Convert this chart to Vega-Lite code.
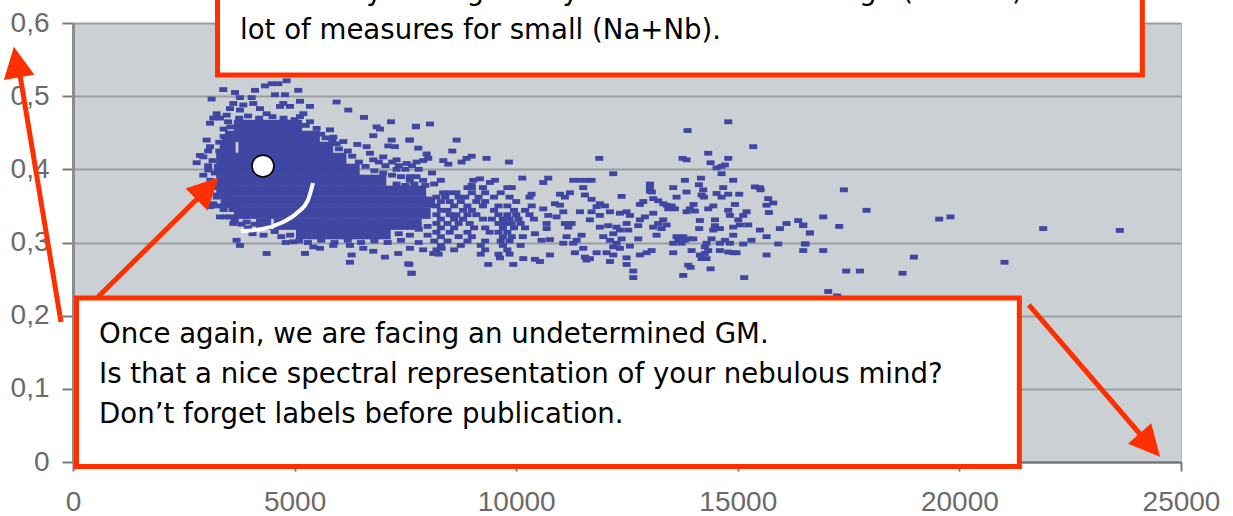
{"$schema":"https://vega.github.io/schema/vega-lite/v6.json","autosize":"none","padding":{"left":73,"top":23,"right":52,"bottom":54},"width":1108,"height":439,"background":"white",
"config":{"view":{"fill":"#cbd0d5","stroke":"#b4b8bc"}},
"datasets":{
"core":[{"x":3800,"y":0.46},{"x":4100,"y":0.46},{"x":4400,"y":0.46},{"x":4700,"y":0.46},{"x":5000,"y":0.46},
{"x":3600,"y":0.445},{"x":3900,"y":0.445},{"x":4200,"y":0.445},{"x":4500,"y":0.445},{"x":4800,"y":0.445},{"x":5100,"y":0.445},{"x":5400,"y":0.445},
{"x":3500,"y":0.43},{"x":3900,"y":0.43},{"x":4200,"y":0.43},{"x":4500,"y":0.43},{"x":4800,"y":0.43},{"x":5100,"y":0.43},{"x":5400,"y":0.43},{"x":5700,"y":0.43},
{"x":3400,"y":0.415},{"x":3600,"y":0.415},{"x":3900,"y":0.415},{"x":4200,"y":0.415},{"x":4500,"y":0.415},{"x":4800,"y":0.415},{"x":5100,"y":0.415},{"x":5400,"y":0.415},{"x":5700,"y":0.415},{"x":6000,"y":0.415},
{"x":3350,"y":0.4},{"x":3600,"y":0.4},{"x":3900,"y":0.4},{"x":4200,"y":0.4},{"x":4500,"y":0.4},{"x":4800,"y":0.4},{"x":5100,"y":0.4},{"x":5400,"y":0.4},{"x":5700,"y":0.4},{"x":6000,"y":0.4},{"x":6300,"y":0.4},
{"x":3400,"y":0.385},{"x":3600,"y":0.385},{"x":3900,"y":0.385},{"x":4200,"y":0.385},{"x":4500,"y":0.385},{"x":4800,"y":0.385},{"x":5100,"y":0.385},{"x":5400,"y":0.385},{"x":5700,"y":0.385},{"x":6000,"y":0.385},{"x":6300,"y":0.385},{"x":6600,"y":0.385},{"x":6900,"y":0.385},
{"x":3400,"y":0.37},{"x":3600,"y":0.37},{"x":3900,"y":0.37},{"x":4200,"y":0.37},{"x":4500,"y":0.37},{"x":4800,"y":0.37},{"x":5100,"y":0.37},{"x":5400,"y":0.37},{"x":5700,"y":0.37},{"x":6000,"y":0.37},{"x":6300,"y":0.37},{"x":6600,"y":0.37},{"x":6900,"y":0.37},{"x":7200,"y":0.37},{"x":7500,"y":0.37},{"x":7800,"y":0.37},
{"x":3500,"y":0.355},{"x":3800,"y":0.355},{"x":4100,"y":0.355},{"x":4400,"y":0.355},{"x":4700,"y":0.355},{"x":5000,"y":0.355},{"x":5300,"y":0.355},{"x":5600,"y":0.355},{"x":5900,"y":0.355},{"x":6200,"y":0.355},{"x":6500,"y":0.355},{"x":6800,"y":0.355},{"x":7100,"y":0.355},{"x":7400,"y":0.355},{"x":7700,"y":0.355},{"x":8000,"y":0.355},
{"x":3800,"y":0.34},{"x":4000,"y":0.34},{"x":4300,"y":0.34},{"x":4600,"y":0.34},{"x":4900,"y":0.34},{"x":5200,"y":0.34},{"x":5500,"y":0.34},{"x":5800,"y":0.34},{"x":6100,"y":0.34},{"x":6400,"y":0.34},{"x":6700,"y":0.34},{"x":7000,"y":0.34},{"x":7300,"y":0.34},{"x":7600,"y":0.34},{"x":7900,"y":0.34},
{"x":4300,"y":0.325},{"x":4700,"y":0.325},{"x":5000,"y":0.325},{"x":5300,"y":0.325},{"x":5600,"y":0.325},{"x":5900,"y":0.325},{"x":6200,"y":0.325},{"x":6500,"y":0.325},{"x":6800,"y":0.325},{"x":7100,"y":0.325},{"x":7400,"y":0.325},{"x":7700,"y":0.325},
{"x":5200,"y":0.312},{"x":5500,"y":0.312},{"x":5800,"y":0.312},{"x":6100,"y":0.312},{"x":6400,"y":0.312},{"x":6700,"y":0.312},{"x":7000,"y":0.312}],
"scatter":[{"x":4820,"y":0.521},{"x":4632,"y":0.517},{"x":4482,"y":0.517},{"x":4331,"y":0.514},{"x":3391,"y":0.509},{"x":3655,"y":0.505},{"x":4106,"y":0.508},{"x":5083,"y":0.508},{"x":3128,"y":0.496},{"x":3767,"y":0.498},{"x":4031,"y":0.498},{"x":4557,"y":0.502},{"x":4783,"y":0.502},{"x":5121,"y":0.493},{"x":5948,"y":0.492},{"x":5347,"y":0.486},{"x":6211,"y":0.481},{"x":6565,"y":0.471},{"x":7174,"y":0.465},{"x":6851,"y":0.458},{"x":6926,"y":0.455},{"x":7738,"y":0.458},{"x":6775,"y":0.446},{"x":6414,"y":0.434},{"x":7189,"y":0.44},{"x":7603,"y":0.44},{"x":7264,"y":0.431},{"x":7114,"y":0.432},
{"x":3617,"y":0.49},{"x":3843,"y":0.488},{"x":4068,"y":0.49},{"x":4745,"y":0.49},{"x":4895,"y":0.486},{"x":5196,"y":0.476},{"x":4670,"y":0.486},{"x":4219,"y":0.483},{"x":3542,"y":0.483},{"x":3767,"y":0.481},{"x":4369,"y":0.476},{"x":3241,"y":0.476},{"x":3166,"y":0.47},{"x":3091,"y":0.463},{"x":3316,"y":0.47},{"x":3467,"y":0.474},{"x":5121,"y":0.472},{"x":5347,"y":0.465},{"x":5497,"y":0.456},{"x":5798,"y":0.454},{"x":5873,"y":0.444},{"x":6099,"y":0.438},{"x":5948,"y":0.435},
{"x":3500,"y":0.465},{"x":3750,"y":0.47},{"x":3950,"y":0.473},{"x":4200,"y":0.47},{"x":4500,"y":0.472},{"x":4750,"y":0.47},{"x":5000,"y":0.468},{"x":5250,"y":0.46},{"x":3400,"y":0.455},{"x":3550,"y":0.458},{"x":3400,"y":0.445},{"x":3300,"y":0.437},{"x":3450,"y":0.44},{"x":3300,"y":0.425},{"x":3400,"y":0.43},{"x":5600,"y":0.448},{"x":5700,"y":0.443},{"x":6000,"y":0.428},{"x":5850,"y":0.44},{"x":6200,"y":0.425},{"x":6300,"y":0.418},{"x":6450,"y":0.41},{"x":6600,"y":0.404},{"x":6800,"y":0.398},{"x":7000,"y":0.395},{"x":7200,"y":0.392},
{"x":6900,"y":0.41},{"x":7050,"y":0.405},{"x":7200,"y":0.41},{"x":7350,"y":0.405},{"x":7500,"y":0.4},{"x":7650,"y":0.405},{"x":7400,"y":0.39},{"x":7600,"y":0.385},{"x":7750,"y":0.39},{"x":7950,"y":0.378},{"x":8150,"y":0.38},{"x":7300,"y":0.38},{"x":7500,"y":0.378},{"x":7700,"y":0.38},
{"x":3050,"y":0.425},{"x":3150,"y":0.412},{"x":3050,"y":0.405},{"x":3100,"y":0.385},{"x":3200,"y":0.395},{"x":3150,"y":0.375},{"x":3250,"y":0.365},{"x":3250,"y":0.35},{"x":3400,"y":0.345},{"x":3450,"y":0.335},{"x":3600,"y":0.345},{"x":3650,"y":0.33},{"x":3800,"y":0.325},{"x":3950,"y":0.32},{"x":4100,"y":0.325},{"x":4050,"y":0.312},{"x":4300,"y":0.31},{"x":4550,"y":0.315},{"x":4700,"y":0.308},{"x":4900,"y":0.31},
{"x":3015,"y":0.44},{"x":3091,"y":0.431},{"x":2865,"y":0.419},{"x":2790,"y":0.409},{"x":2940,"y":0.417},{"x":2940,"y":0.392},{"x":3053,"y":0.399},{"x":3241,"y":0.362},{"x":3166,"y":0.353},{"x":3091,"y":0.349},{"x":3316,"y":0.335},{"x":3542,"y":0.335},{"x":3617,"y":0.326},{"x":3918,"y":0.328},{"x":3692,"y":0.303},{"x":3767,"y":0.296},{"x":4369,"y":0.285},{"x":5234,"y":0.285},{"x":5422,"y":0.294},{"x":5572,"y":0.292},{"x":4971,"y":0.301},{"x":5873,"y":0.296},{"x":6249,"y":0.296},{"x":6287,"y":0.283},{"x":6249,"y":0.273},{"x":6550,"y":0.292},{"x":6775,"y":0.288},{"x":7039,"y":0.28},{"x":7340,"y":0.285},{"x":7603,"y":0.292},{"x":7565,"y":0.271},{"x":7640,"y":0.258},
{"x":6625,"y":0.431},{"x":6700,"y":0.422},{"x":6775,"y":0.413},{"x":7000,"y":0.417},{"x":7300,"y":0.413},{"x":7527,"y":0.408},{"x":7753,"y":0.41},{"x":7300,"y":0.4},{"x":7600,"y":0.39},{"x":7800,"y":0.4},{"x":8100,"y":0.395},{"x":7900,"y":0.385},{"x":8300,"y":0.385},
{"x":4800,"y":0.3},{"x":5100,"y":0.302},{"x":5300,"y":0.3},{"x":5600,"y":0.303},{"x":5900,"y":0.3},{"x":6200,"y":0.303},{"x":6500,"y":0.3},{"x":6800,"y":0.302},{"x":7100,"y":0.3},{"x":7400,"y":0.303},{"x":7800,"y":0.3},{"x":8000,"y":0.31},{"x":7350,"y":0.312},{"x":7600,"y":0.31},{"x":7800,"y":0.318},{"x":8000,"y":0.322},
{"x":7738,"y":0.459},{"x":8054,"y":0.462},{"x":7588,"y":0.44},{"x":8655,"y":0.44},{"x":7790,"y":0.429},{"x":8558,"y":0.425},{"x":7979,"y":0.421},{"x":8016,"y":0.415},{"x":7903,"y":0.412},{"x":8355,"y":0.412},{"x":8467,"y":0.407},{"x":8994,"y":0.418},{"x":8881,"y":0.415},{"x":8768,"y":0.41},{"x":9332,"y":0.415},{"x":9836,"y":0.41},{"x":11874,"y":0.415},{"x":12190,"y":0.394},{"x":10723,"y":0.388},{"x":10610,"y":0.382},{"x":11287,"y":0.385},{"x":11438,"y":0.385},{"x":11588,"y":0.385},{"x":11701,"y":0.385},{"x":10137,"y":0.388},{"x":9520,"y":0.385},{"x":9407,"y":0.382},{"x":9182,"y":0.387},{"x":9031,"y":0.385},{"x":8994,"y":0.378},{"x":11513,"y":0.375},{"x":11212,"y":0.368},{"x":11099,"y":0.362},{"x":10987,"y":0.366},{"x":10347,"y":0.366},{"x":11550,"y":0.365},{"x":12378,"y":0.363},{"x":11701,"y":0.359},
{"x":8900,"y":0.375},{"x":9000,"y":0.375},{"x":9250,"y":0.375},{"x":9800,"y":0.375},{"x":9900,"y":0.375},
{"x":8350,"y":0.368},{"x":8500,"y":0.368},{"x":8650,"y":0.368},{"x":9000,"y":0.368},{"x":9300,"y":0.368},{"x":9650,"y":0.368},
{"x":8200,"y":0.362},{"x":8400,"y":0.362},{"x":8700,"y":0.362},{"x":8850,"y":0.362},{"x":9150,"y":0.362},{"x":9500,"y":0.362},{"x":9850,"y":0.362},{"x":10300,"y":0.362},
{"x":8300,"y":0.356},{"x":8500,"y":0.356},{"x":8750,"y":0.356},{"x":9100,"y":0.356},{"x":9300,"y":0.356},{"x":10000,"y":0.356},
{"x":8200,"y":0.35},{"x":8600,"y":0.35},{"x":8900,"y":0.35},{"x":9250,"y":0.35},{"x":9600,"y":0.35},{"x":9800,"y":0.35},{"x":10350,"y":0.35},
{"x":8300,"y":0.344},{"x":8450,"y":0.344},{"x":8800,"y":0.344},{"x":9000,"y":0.344},{"x":9500,"y":0.344},{"x":9950,"y":0.344},{"x":10200,"y":0.344},
{"x":8200,"y":0.338},{"x":8500,"y":0.338},{"x":8650,"y":0.338},{"x":8900,"y":0.338},{"x":9100,"y":0.338},{"x":9600,"y":0.338},{"x":9800,"y":0.338},{"x":10000,"y":0.338},{"x":10300,"y":0.338},
{"x":8300,"y":0.332},{"x":8600,"y":0.332},{"x":8800,"y":0.332},{"x":9250,"y":0.332},{"x":9450,"y":0.332},{"x":9700,"y":0.332},{"x":9850,"y":0.332},{"x":10050,"y":0.332},{"x":10400,"y":0.332},
{"x":8200,"y":0.326},{"x":8450,"y":0.326},{"x":8700,"y":0.326},{"x":8950,"y":0.326},{"x":9600,"y":0.326},{"x":9750,"y":0.326},{"x":9900,"y":0.326},{"x":10100,"y":0.326},
{"x":8300,"y":0.32},{"x":8600,"y":0.32},{"x":9050,"y":0.32},{"x":9300,"y":0.32},{"x":9700,"y":0.32},{"x":9950,"y":0.32},{"x":10200,"y":0.32},
{"x":8200,"y":0.314},{"x":8500,"y":0.314},{"x":8900,"y":0.314},{"x":9400,"y":0.314},{"x":9600,"y":0.314},{"x":9800,"y":0.314},
{"x":8300,"y":0.308},{"x":8700,"y":0.308},{"x":9000,"y":0.308},{"x":9700,"y":0.308},{"x":9900,"y":0.308},{"x":10150,"y":0.308},
{"x":8150,"y":0.302},{"x":8450,"y":0.302},{"x":8900,"y":0.302},{"x":9300,"y":0.302},{"x":9650,"y":0.302},{"x":9850,"y":0.302},
{"x":8300,"y":0.296},{"x":8750,"y":0.296},{"x":9200,"y":0.296},{"x":9700,"y":0.296},{"x":10100,"y":0.296},
{"x":7900,"y":0.29},{"x":8200,"y":0.29},{"x":8600,"y":0.29},{"x":9300,"y":0.29},{"x":9800,"y":0.29},
{"x":8130,"y":0.285},{"x":8250,"y":0.284},{"x":9200,"y":0.284},{"x":9600,"y":0.284},{"x":9850,"y":0.284},{"x":7588,"y":0.27},{"x":7640,"y":0.258},{"x":8317,"y":0.292},
{"x":11889,"y":0.353},{"x":12002,"y":0.35},{"x":11814,"y":0.349},{"x":11701,"y":0.342},{"x":11889,"y":0.337},{"x":11663,"y":0.331},{"x":12115,"y":0.342},{"x":11438,"y":0.342},{"x":11062,"y":0.342},{"x":12491,"y":0.342},{"x":12340,"y":0.34},{"x":12566,"y":0.337},{"x":12491,"y":0.326},{"x":12528,"y":0.317},{"x":12340,"y":0.317},{"x":12754,"y":0.323},{"x":11889,"y":0.321},{"x":12077,"y":0.323},{"x":12265,"y":0.321},{"x":12190,"y":0.312},{"x":11964,"y":0.308},{"x":12115,"y":0.303},{"x":12265,"y":0.299},{"x":12340,"y":0.292},{"x":12190,"y":0.294},{"x":12754,"y":0.305},{"x":12566,"y":0.295},{"x":12378,"y":0.305},{"x":13055,"y":0.289},{"x":12942,"y":0.286},{"x":12791,"y":0.283},{"x":11814,"y":0.286},{"x":12039,"y":0.286},{"x":12190,"y":0.283},{"x":12115,"y":0.274},{"x":12491,"y":0.279},{"x":12491,"y":0.27},{"x":12641,"y":0.261},{"x":12641,"y":0.252},{"x":11550,"y":0.28},{"x":11663,"y":0.278},{"x":11588,"y":0.276},{"x":11325,"y":0.286},{"x":11513,"y":0.292},{"x":11475,"y":0.31},{"x":11363,"y":0.303},{"x":11287,"y":0.299},{"x":11062,"y":0.299},{"x":11137,"y":0.308},{"x":11175,"y":0.321},{"x":11250,"y":0.326},{"x":11099,"y":0.326},{"x":10911,"y":0.335},{"x":10723,"y":0.337},{"x":10686,"y":0.326},{"x":10610,"y":0.346},{"x":10874,"y":0.353},{"x":10987,"y":0.351},{"x":10573,"y":0.303},{"x":10761,"y":0.304},{"x":10423,"y":0.312},{"x":10686,"y":0.319},{"x":10761,"y":0.283},{"x":10535,"y":0.274},{"x":10423,"y":0.277},{"x":10159,"y":0.278},{"x":9934,"y":0.27},{"x":9633,"y":0.279},{"x":9370,"y":0.27},
{"x":14784,"y":0.465},{"x":13867,"y":0.453},{"x":15348,"y":0.431},{"x":14333,"y":0.422},{"x":13754,"y":0.415},{"x":13844,"y":0.413},{"x":14784,"y":0.415},{"x":14386,"y":0.409},{"x":14634,"y":0.404},{"x":14521,"y":0.402},{"x":14709,"y":0.406},{"x":14634,"y":0.394},{"x":13806,"y":0.385},{"x":14168,"y":0.388},{"x":14897,"y":0.385},{"x":14123,"y":0.379},{"x":13543,"y":0.375},{"x":13017,"y":0.38},{"x":13017,"y":0.375},{"x":13017,"y":0.37},{"x":13060,"y":0.369},{"x":15386,"y":0.376},{"x":15497,"y":0.375},{"x":15514,"y":0.372},{"x":14220,"y":0.372},{"x":14183,"y":0.365},{"x":14235,"y":0.362},{"x":13844,"y":0.369},{"x":14671,"y":0.375},{"x":14521,"y":0.367},{"x":14634,"y":0.362},{"x":14784,"y":0.366},{"x":15032,"y":0.366},{"x":15686,"y":0.36},{"x":15799,"y":0.354},{"x":15649,"y":0.351},{"x":15702,"y":0.341},{"x":13618,"y":0.362},{"x":13092,"y":0.36},{"x":13205,"y":0.357},{"x":13318,"y":0.353},{"x":13393,"y":0.351},{"x":13506,"y":0.35},{"x":13581,"y":0.346},{"x":13431,"y":0.346},{"x":12791,"y":0.352},{"x":12867,"y":0.356},{"x":14935,"y":0.352},{"x":14000,"y":0.352},{"x":13919,"y":0.346},{"x":14032,"y":0.343},{"x":13844,"y":0.342},{"x":14446,"y":0.35},{"x":14333,"y":0.346},{"x":14784,"y":0.344},{"x":14822,"y":0.337},{"x":15198,"y":0.342},{"x":15123,"y":0.337},{"x":15010,"y":0.331},{"x":13092,"y":0.34},{"x":12904,"y":0.335},{"x":12791,"y":0.331},{"x":14484,"y":0.331},{"x":14145,"y":0.33},{"x":14130,"y":0.319},{"x":15499,"y":0.317},{"x":15950,"y":0.319},{"x":16100,"y":0.326},{"x":16363,"y":0.33},{"x":16476,"y":0.324},{"x":16627,"y":0.313},{"x":15649,"y":0.308},{"x":15912,"y":0.298},{"x":16514,"y":0.298},{"x":16476,"y":0.289},{"x":15649,"y":0.283},{"x":15145,"y":0.252},{"x":13769,"y":0.255},{"x":14386,"y":0.264},{"x":13882,"y":0.269},{"x":13935,"y":0.266},{"x":13543,"y":0.286},
{"x":13318,"y":0.331},{"x":13205,"y":0.326},{"x":13092,"y":0.321},{"x":13280,"y":0.319},{"x":13393,"y":0.324},{"x":13167,"y":0.31},{"x":14484,"y":0.323},{"x":14596,"y":0.319},{"x":14446,"y":0.317},{"x":14897,"y":0.321},{"x":15047,"y":0.324},{"x":15235,"y":0.324},{"x":14145,"y":0.283},{"x":14258,"y":0.285},{"x":14295,"y":0.278},{"x":14183,"y":0.278},{"x":14333,"y":0.289},{"x":14897,"y":0.286},{"x":14784,"y":0.287},{"x":14972,"y":0.286},{"x":14596,"y":0.289},{"x":13543,"y":0.299},{"x":13656,"y":0.303},{"x":13769,"y":0.308},{"x":13882,"y":0.305},{"x":13731,"y":0.299},{"x":13995,"y":0.305},{"x":13618,"y":0.308},{"x":13957,"y":0.289},{"x":13806,"y":0.303},{"x":14822,"y":0.299},{"x":15123,"y":0.298},{"x":15310,"y":0.303},{"x":14295,"y":0.299},{"x":14408,"y":0.305},{"x":14258,"y":0.294},{"x":14897,"y":0.31},{"x":14709,"y":0.303},{"x":14596,"y":0.299},
{"x":17394,"y":0.372},{"x":16927,"y":0.335},{"x":17905,"y":0.344},{"x":16476,"y":0.323},{"x":17288,"y":0.322},{"x":16627,"y":0.313},{"x":16529,"y":0.298},{"x":16927,"y":0.289},{"x":18973,"y":0.28},{"x":17446,"y":0.261},{"x":17755,"y":0.261},{"x":18717,"y":0.258},{"x":17040,"y":0.233},{"x":17243,"y":0.227},{"x":19544,"y":0.332},{"x":19800,"y":0.335},{"x":21891,"y":0.319},{"x":23620,"y":0.3165},{"x":21018,"y":0.273}],
"arrows":[{"x":-271,"y":0.1913,"x2":-1196,"y2":0.5289,"hx":-1275,"hy":0.5467,"heading":350.3},{"x":541,"y":0.2241,"x2":2797,"y2":0.3594,"hx":3034,"hy":0.3738,"heading":45},{"x":21567,"y":0.2146,"x2":24094,"y2":0.0369,"hx":24297,"hy":0.0232,"heading":138.6}],
"boxes":[{"x":3260,"x2":24128,"y":0.5289,"y2":0.6451},{"x":79,"x2":21353,"y":0.2241,"y2":-0.0062}],
"notes":[{"x":3768,"y":0.6314,"t":"fact that you've got only one measure for large (Na+Nb) and a"},{"x":3768,"y":0.5781,"t":"lot of measures for small (Na+Nb)."},{"x":587,"y":0.1626,"t":"Once again, we are facing an undetermined GM."},{"x":587,"y":0.108,"t":"Is that a nice spectral representation of your nebulous mind?"},{"x":587,"y":0.0533,"t":"Don’t forget labels before publication."}],
"arc":[{"x":3790,"y":0.3157,"o":1},{"x":4264,"y":0.3184,"o":2},{"x":4693,"y":0.3266,"o":3},{"x":5053,"y":0.3403,"o":4},{"x":5302,"y":0.3581,"o":5},{"x":5415,"y":0.3813,"o":6}],
"dot":[{"x":4286,"y":0.4045}]
},
"encoding":{
"x":{"field":"x","type":"quantitative","title":null,"scale":{"domain":[0,25000],"nice":false,"zero":false},"axis":{"values":[0,5000,10000,15000,20000,25000],"format":"d","grid":false,"domainColor":"#6f6f6f","domainWidth":2,"tickColor":"#7a7a7a","tickSize":9,"tickWidth":2,"labelFont":"Liberation Sans","labelFontSize":28,"labelColor":"#6a6a6a","labelPadding":17,"labelFlush":false}},
"y":{"field":"y","type":"quantitative","title":null,"scale":{"domain":[0,0.6],"nice":false,"zero":false},"axis":{"values":[0,0.1,0.2,0.3,0.4,0.5,0.6],"labelExpr":"datum.value==0?'0':replace(format(datum.value,'.1f'),'.',',')","grid":true,"gridColor":"#9a9ea2","gridWidth":2,"domainColor":"#8a8c90","domainWidth":3,"tickColor":"#7a7a7a","tickSize":11,"tickWidth":2,"labelFont":"Liberation Sans","labelFontSize":28,"labelColor":"#6a6a6a","labelPadding":13}}
},
"layer":[
{"data":{"name":"core"},"mark":{"type":"point","shape":"M-1,-0.75H1V0.75H-1Z","filled":true,"size":225,"opacity":1,"color":"#3f47a3"}},
{"data":{"name":"scatter"},"mark":{"type":"point","shape":"M-1,-0.6H1V0.6H-1Z","filled":true,"size":64,"opacity":1,"color":"#3f47a3"}},
{"data":{"name":"dot"},"mark":{"type":"point","shape":"circle","filled":true,"size":480,"opacity":1,"fill":"white","stroke":"black","strokeWidth":1.6}},
{"data":{"name":"arc"},"mark":{"type":"line","color":"white","strokeWidth":4,"interpolate":"monotone"},"encoding":{"order":{"field":"o"}}},
{"data":{"name":"arrows"},"mark":{"type":"rule","color":"#ff3000","strokeWidth":5},"encoding":{"x2":{"field":"x2"},"y2":{"field":"y2"}}},
{"data":{"name":"arrows"},"mark":{"type":"point","shape":"M0,-1L-1,1L1,1Z","filled":true,"size":960,"opacity":1,"color":"#ff3000"},"encoding":{"x":{"field":"hx","type":"quantitative"},"y":{"field":"hy","type":"quantitative"},"angle":{"field":"heading","type":"quantitative","scale":null}}},
{"data":{"name":"boxes"},"mark":{"type":"rect","fill":"white","stroke":"#ff3000","strokeWidth":5},"encoding":{"x2":{"field":"x2"},"y2":{"field":"y2"}}},
{"data":{"name":"notes"},"mark":{"type":"text","align":"left","baseline":"alphabetic","font":"DejaVu Sans","fontSize":27.6,"color":"black"},"encoding":{"text":{"field":"t","type":"nominal"}}}
]}
